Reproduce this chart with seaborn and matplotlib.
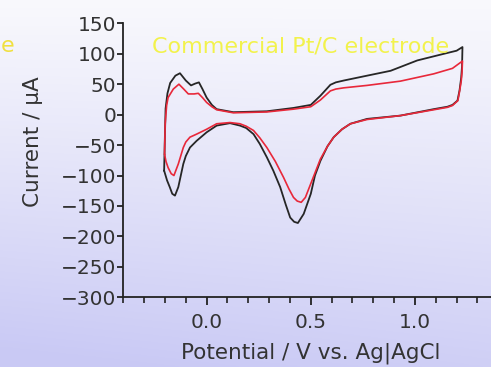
import numpy as np
import pandas as pd
import matplotlib
matplotlib.use("Agg")
import matplotlib.pyplot as plt
import seaborn as sns
from matplotlib.ticker import MultipleLocator

# Cyclic voltammograms (potential in V vs. Ag|AgCl, current in uA)
# Black trace: anodic sweep then cathodic sweep
black_fwd_v = [-0.204, -0.201, -0.197, -0.188, -0.175, -0.150, -0.128, -0.100, -0.075, -0.055,
               -0.037, -0.020, 0.000, 0.025, 0.048, 0.128, 0.289, 0.417, 0.500, 0.546, 0.594,
               0.620, 0.658, 0.770, 0.883, 1.011, 1.140, 1.200, 1.228]
black_fwd_i = [-92, -45, 10, 35, 52, 64, 68, 56, 48, 51, 53, 42, 28, 16, 9, 4, 5.5, 11, 16, 31,
               49, 53, 56, 64, 72, 89, 100, 105, 111]
black_rev_v = [1.228, 1.226, 1.222, 1.214, 1.204, 1.180, 1.156, 1.090, 0.930, 0.770, 0.690,
               0.650, 0.610, 0.580, 0.546, 0.520, 0.500, 0.466, 0.438, 0.420, 0.401, 0.380,
               0.353, 0.320, 0.289, 0.255, 0.225, 0.190, 0.160, 0.112, 0.048, 0.000, -0.048,
               -0.080, -0.100, -0.112, -0.136, -0.152, -0.165, -0.177, -0.190, -0.204]
black_rev_i = [111, 80, 61, 40, 23, 16, 13, 9, -1.6, -7, -15, -24, -37, -52, -76, -100, -130,
               -163, -178, -176, -169, -148, -119, -92, -70, -48, -32, -22, -18, -14, -18,
               -29, -43, -54, -68, -81, -119, -133, -130, -119, -108, -92]

# Red trace
red_fwd_v = [-0.202, -0.199, -0.192, -0.185, -0.160, -0.133, -0.110, -0.088, -0.060, -0.040,
             -0.020, 0.000, 0.025, 0.048, 0.128, 0.289, 0.417, 0.500, 0.546, 0.594, 0.620,
             0.658, 0.770, 0.930, 1.090, 1.180, 1.228]
red_fwd_i = [-65, -15, 15, 28, 42, 50, 42, 34, 34, 35, 28, 20, 13, 8, 3, 4.4, 9, 13, 24, 39,
             42, 44, 48, 55, 67, 76, 88]
red_rev_v = [1.228, 1.226, 1.222, 1.214, 1.206, 1.180, 1.156, 1.090, 0.930, 0.770, 0.690,
             0.650, 0.610, 0.580, 0.546, 0.506, 0.474, 0.454, 0.435, 0.417, 0.395, 0.369,
             0.330, 0.289, 0.255, 0.225, 0.190, 0.160, 0.112, 0.048, 0.000, -0.048, -0.080,
             -0.100, -0.112, -0.136, -0.157, -0.170, -0.185, -0.195, -0.202]
red_rev_i = [88, 70, 55, 38, 23, 15, 12, 8, -1.6, -8, -15, -24, -37, -52, -73, -108, -136,
             -144, -142, -136, -122, -103, -77, -54, -38, -26, -19, -15, -13, -15, -24, -32,
             -37, -45, -54, -81, -100, -97, -87, -77, -65]

x_ticks = [0.0, 0.5, 1.0]
y_ticks = [150, 100, 50, 0, -50, -100, -150, -200, -250, -300]

sns.set_theme(style="white")
plt.rcParams['font.family'] = ['DejaVu Sans']

W, H = 491, 367
fig = plt.figure(figsize=(W / 100, H / 100), dpi=100)

# slide background: pale at top fading to lavender at the bottom
bg = fig.add_axes([0, 0, 1, 1], zorder=-10)
ty = np.linspace(0, 1, 200)[:, None]
tx = np.linspace(0, 1, 200)[None, :]
top = np.array([0.975, 0.975, 0.99])
bot = np.array([0.79, 0.79, 0.96])
mix = np.clip(ty ** 1.1 * (1.0 - 0.12 * tx) + 0.05 * (1 - tx) * ty, 0, 1)
img = top[None, None, :] * (1 - mix[..., None]) + bot[None, None, :] * mix[..., None]
bg.imshow(img, aspect='auto', extent=[0, 1, 0, 1], origin='upper')
bg.set_axis_off()

ax = fig.add_axes([123.3 / W, (H - 297.3) / H, 375.0 / W, 274.0 / H])
ax.set_facecolor('none')

def branch(v, i, label):
    return pd.DataFrame({'V': v, 'I': i, 'trace': label})

df_black = pd.concat([branch(black_fwd_v, black_fwd_i, 'b'),
                      branch(black_rev_v, black_rev_i, 'b')], ignore_index=True)
df_red = pd.concat([branch(red_fwd_v, red_fwd_i, 'r'),
                    branch(red_rev_v, red_rev_i, 'r')], ignore_index=True)

sns.lineplot(data=df_black, x='V', y='I', sort=False, estimator=None, ax=ax,
             color='#262626', lw=1.3)
sns.lineplot(data=df_red, x='V', y='I', sort=False, estimator=None, ax=ax,
             color='#e8283a', lw=1.2)

ax.set_xlim(-0.4, 1.4)
ax.set_ylim(-300, 150)
ax.set_xticks(x_ticks)
ax.set_xticklabels([f"{t:.1f}" for t in x_ticks])
ax.xaxis.set_minor_locator(MultipleLocator(0.1))
ax.set_yticks(y_ticks)
ax.set_yticklabels([f"{t}".replace('-', '\u2212') for t in y_ticks])

for side in ('top', 'right'):
    ax.spines[side].set_visible(False)
for side in ('left', 'bottom'):
    ax.spines[side].set_color('#222222')
    ax.spines[side].set_linewidth(1.3)

ax.tick_params(axis='both', which='both', direction='out', color='#222222',
               labelcolor='#333333', labelsize=14.5)
ax.tick_params(axis='x', which='major', length=6, width=1.3, pad=5, bottom=True)
ax.tick_params(axis='x', which='minor', length=4, width=1.2, bottom=True)
ax.tick_params(axis='y', which='major', length=4, width=1.3, pad=1, left=True)

ax.set_xlabel('Potential / V vs. Ag|AgCl', fontsize=15.5, color='#333333', labelpad=8)
ax.set_ylabel('Current / \u03bcA', fontsize=15.5, color='#333333')
ax.yaxis.set_label_coords(-0.215, 0.567)

fig.text(152 / W, 1 - 46 / H, 'Commercial Pt/C electrode', fontsize=16,
         color='#f2f24c', ha='left', va='center')
fig.text(1 / W, 1 - 46 / H, 'e', fontsize=16, color='#f0e040', ha='left', va='center')

fig.savefig('out.png', dpi=100)
